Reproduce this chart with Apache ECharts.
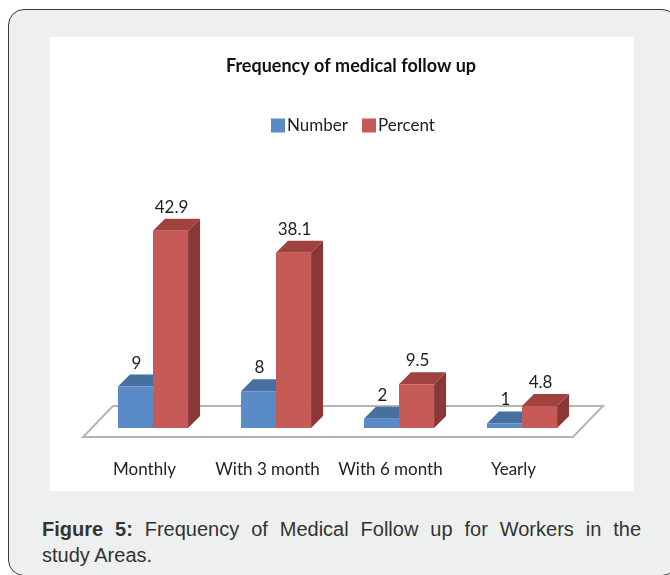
<!DOCTYPE html>
<html>
<head>
<meta charset="utf-8">
<script src="https://cdn.jsdelivr.net/npm/echarts@6/dist/echarts.min.js"></script>
<style>
  html, body { margin: 0; padding: 0; }
  body { width: 670px; height: 575px; background: #ffffff; position: relative; overflow: hidden; }
  .frame {
    position: absolute; left: 8px; top: 9px; width: 668px; height: 565px;
    border: 1.5px solid #3a3a3a; border-radius: 16px; background: #eef0ef;
  }
  .plot { position: absolute; left: 50px; top: 37px; width: 584px; height: 454px; background: #fff; }
  .caption {
    position: absolute; left: 42px; top: 516px; width: 599px;
    font-family: "Liberation Sans", Arial, sans-serif; font-size: 20px; line-height: 26px; color: #333;
  }
  .caption .l1 { text-align: justify; text-align-last: justify; }
  #chart { position: absolute; left: 0; top: 0; width: 670px; height: 575px; }
</style>
</head>
<body>
<div class="frame"></div>
<div class="plot"></div>
<div class="caption">
  <div class="l1"><b>Figure 5:</b> Frequency of Medical Follow up for Workers in the</div>
  <div>study Areas.</div>
</div>
<div id="chart"></div>
<script>
// data
const categories = ['Monthly', 'With 3 month', 'With 6 month', 'Yearly'];
const numberValues = [9, 8, 2, 1];
const percentValues = [42.9, 38.1, 9.5, 4.8];
const seriesNames = ['Number', 'Percent'];

// face colours: front, top, side
const palette = [
  { front: '#5a8bc6', top: '#46709f', side: '#3e6491' },
  { front: '#c55a56', top: '#a0433f', side: '#8a3735' }
];
const depth = 12;
const font = 'Lato, "Open Sans", sans-serif';

const chart = echarts.init(document.getElementById('chart'), null, { renderer: 'canvas' });

// 3D-ish bar: front face + top face + right side face, value label above
function barRenderer(which) {
  return function (params, api) {
    const cat = api.value(0);
    const val = api.value(1);
    const base = api.coord([cat, 0]);
    const top = api.coord([cat, val]);
    const band = api.size([1, 0])[0];
    const w = band * 0.285;
    const x = which === 0 ? base[0] - w : base[0];
    const by = base[1], ty = top[1];
    const c = palette[which];
    const d = depth;
    return {
      type: 'group',
      children: [
        { type: 'polygon', shape: { points: [[x + w, ty], [x + w + d, ty - d], [x + w + d, by - d], [x + w, by]] },
          style: { fill: c.side } },
        { type: 'polygon', shape: { points: [[x, ty], [x + d, ty - d], [x + w + d, ty - d], [x + w, ty]] },
          style: { fill: c.top } },
        { type: 'rect', shape: { x: x, y: ty, width: w, height: by - ty },
          style: { fill: c.front } },
        { type: 'text', x: x + w / 2 + 1, y: ty - d - 3,
          style: { text: String(val), align: 'center', verticalAlign: 'bottom',
                   font: '17px ' + font, fill: '#1e1e1e' } }
      ]
    };
  };
}

// floor under the bars, built from the grid rectangle
function floorRenderer(params, api) {
  const cs = params.coordSys;
  const x0 = cs.x, x1 = cs.x + cs.width, by = cs.y + cs.height;
  return {
    type: 'polygon',
    shape: { points: [[x0 - 8.5, by + 9], [x1 - 10.5, by + 9], [x1 + 19.5, by - 22], [x0 + 21.5, by - 22]] },
    style: { fill: '#fff', stroke: '#b4b4b4', lineWidth: 2 }
  };
}

const option = {
  animation: false,
  title: {
    text: 'Frequency of medical follow up',
    left: 346, top: 52, textAlign: 'center',
    textStyle: { fontFamily: font, fontWeight: 'bold', fontSize: 18, color: '#111' }
  },
  legend: {
    data: seriesNames,
    left: 266, top: 112,
    icon: 'rect', itemWidth: 14, itemHeight: 14, itemGap: 14,
    textStyle: { fontFamily: font, fontSize: 17, color: '#222', padding: [0, 0, 0, -3] }
  },
  grid: { left: 91.5, width: 492, top: 198, height: 230 },
  xAxis: {
    type: 'category',
    data: categories,
    axisLine: { show: false },
    axisTick: { show: false },
    axisLabel: { interval: 0, margin: 33, fontFamily: font, fontSize: 17, color: '#222', padding: [0, 17, 0, 0] }
  },
  yAxis: { type: 'value', min: 0, max: 50, show: false, splitLine: { show: false } },
  series: [
    { type: 'custom', name: 'floor', renderItem: floorRenderer, data: [[0, 0]], silent: true, z: 1 },
    { type: 'custom', name: seriesNames[0], renderItem: barRenderer(0), z: 2,
      itemStyle: { color: palette[0].front },
      data: numberValues.map((v, i) => [i, v]) },
    { type: 'custom', name: seriesNames[1], renderItem: barRenderer(1), z: 3,
      itemStyle: { color: palette[1].front },
      data: percentValues.map((v, i) => [i, v]) }
  ]
};
chart.setOption(option);
</script>
</body>
</html>
